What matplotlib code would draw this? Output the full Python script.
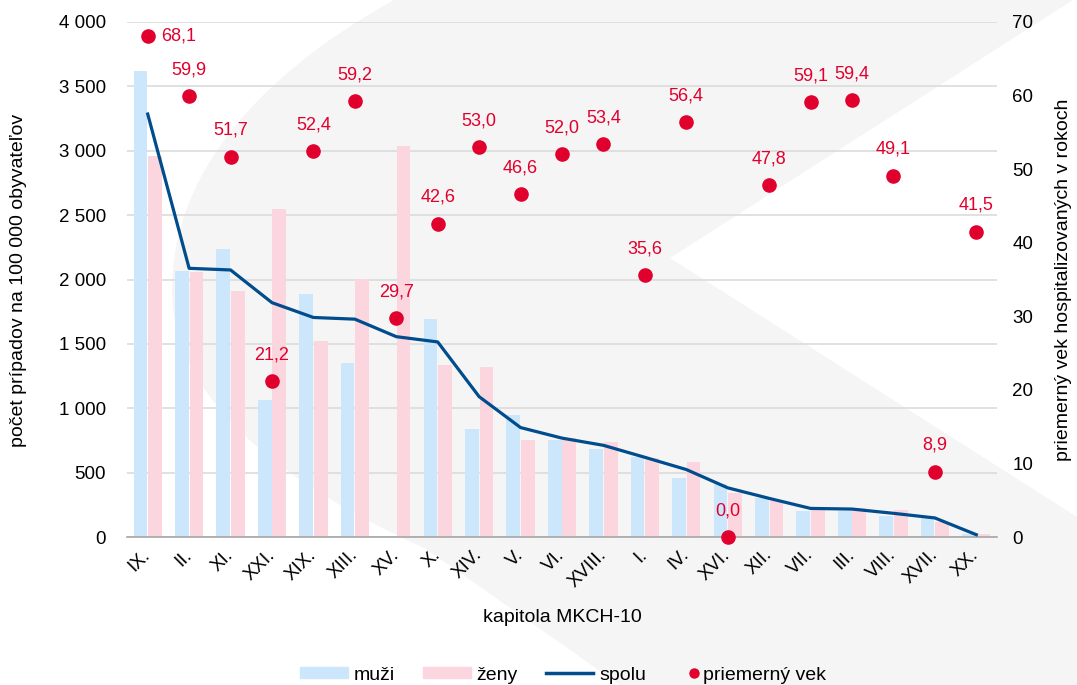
import numpy as np
import matplotlib
matplotlib.use("Agg")
import matplotlib.pyplot as plt
from matplotlib.patches import PathPatch, Patch
from matplotlib.path import Path
from matplotlib.lines import Line2D
from matplotlib.ticker import FuncFormatter, MultipleLocator

plt.rcParams['font.family'] = ['Liberation Sans', 'DejaVu Sans']

# data
kapitoly = ["IX.", "II.", "XI.", "XXI.", "XIX.", "XIII.", "XV.", "X.", "XIV.", "V.", "VI.",
            "XVIII.", "I.", "IV.", "XVI.", "XII.", "VII.", "III.", "VIII.", "XVII.", "XX."]
muzi = [3620, 2065, 2235, 1064, 1887, 1355, 0, 1693, 841, 948, 750,
        681, 624, 461, 415, 304, 204, 203, 163, 165, 23]
zeny = [2962, 2062, 1913, 2546, 1522, 2001, 3039, 1336, 1320, 750, 767,
        737, 616, 584, 344, 284, 207, 228, 210, 120, 21]
spolu = [3285, 2087, 2074, 1820, 1705, 1692, 1556, 1515, 1090, 850, 768,
         712, 619, 524, 382, 300, 222, 217, 184, 148, 18]
vek = [68.1, 59.9, 51.7, 21.2, 52.4, 59.2, 29.7, 42.6, 53.0, 46.6, 52.0,
       53.4, 35.6, 56.4, 0.0, 47.8, 59.1, 59.4, 49.1, 8.9, 41.5]

C_MUZI = "#cce6fb"
C_ZENY = "#fcd6de"
C_SPOLU = "#004c8c"
C_VEK = "#e1002d"

W, H = 1077, 685
fig = plt.figure(figsize=(W / 100, H / 100), dpi=100)

# grey watermark shape in the background (pixel outline, top-left origin)
shape_px = [(394, 0), (250, 80), (172, 180), (172, 290),
            (172, 420), (330, 505), (426, 549),
            (620, 685), (1077, 685), (1077, 517), (670, 258), (1073, 0), (394, 0)]
codes = [Path.MOVETO, Path.CURVE4, Path.CURVE4, Path.CURVE4,
         Path.CURVE4, Path.CURVE4, Path.CURVE4,
         Path.LINETO, Path.LINETO, Path.LINETO, Path.LINETO, Path.LINETO, Path.CLOSEPOLY]
shape = [(px / W, 1 - py / H) for px, py in shape_px]
fig.add_artist(PathPatch(Path(shape, codes), transform=fig.transFigure,
                         facecolor="#f5f5f5", edgecolor="none", zorder=-5))

ax = fig.add_axes([127 / W, 1 - 537 / H, 870 / W, 515 / H])
ax.patch.set_visible(False)
ax2 = ax.twinx()
ax2.patch.set_visible(False)

x = np.arange(len(kapitoly))
bw = 0.33
ax.bar(x - 0.175, muzi, bw, color=C_MUZI, zorder=2)
ax.bar(x + 0.175, zeny, bw, color=C_ZENY, zorder=2)
ax.plot(x, spolu, color=C_SPOLU, lw=2.3, zorder=3)

ax.set_xlim(-0.5, len(kapitoly) - 0.5)
ax.set_ylim(0, 4000)
ax.yaxis.set_major_locator(MultipleLocator(500))
ax.yaxis.set_major_formatter(FuncFormatter(lambda v, _: f"{int(v):,}".replace(",", " ")))
ax.grid(axis="y", color="#d9d9d9", lw=1.1, zorder=0)
ax.set_axisbelow(True)

ax.set_xticks(x)
ax.set_xticklabels(kapitoly, rotation=45, ha="right", va="center", rotation_mode="anchor")
ax.tick_params(axis="x", length=0, pad=11, labelsize=13.5)
ax.tick_params(axis="y", length=0, pad=15, labelsize=13.5)

for a in (ax, ax2):
    for s in ("top", "left", "right", "bottom"):
        a.spines[s].set_visible(False)
ax.spines["bottom"].set_visible(True)
ax.spines["bottom"].set_color("#a6a6a6")
ax.spines["bottom"].set_linewidth(1.2)

ax2.set_ylim(0, 70)
ax2.yaxis.set_major_locator(MultipleLocator(10))
ax2.tick_params(axis="y", length=0, pad=11, labelsize=13.5)
ax2.scatter(x, vek, s=90, color=C_VEK, zorder=5, clip_on=False)

for i, v in enumerate(vek):
    txt = f"{v:.1f}".replace(".", ",")
    if i == 0:
        ax2.annotate(txt, (x[i], v), xytext=(10, 0), textcoords="offset points",
                     ha="left", va="center", color=C_VEK, fontsize=13)
    else:
        ax2.annotate(txt, (x[i], v), xytext=(0, 19), textcoords="offset points",
                     ha="center", va="center", color=C_VEK, fontsize=13)

fig.text(19 / W, 1 - 280 / H, "počet prípadov na 100 000 obyvateľov", rotation=90,
         ha="center", va="center", fontsize=14)
fig.text(1064 / W, 1 - 280 / H, "priemerný vek hospitalizovaných v rokoch", rotation=90,
         ha="center", va="center", fontsize=14)
fig.text(562 / W, 1 - 618 / H, "kapitola MKCH-10", ha="center", va="center", fontsize=14)

# legend: two pieces so the dot sits right next to its text
leg_y = 1 - 675 / H
handles = [Patch(color=C_MUZI), Patch(color=C_ZENY), Line2D([], [], color=C_SPOLU, lw=2.5)]
fig.legend(handles, ["muži", "ženy", "spolu"], loc="center left",
           bbox_to_anchor=(300 / W, leg_y), ncol=3, frameon=False, fontsize=14,
           handlelength=2.45, handleheight=0.55, handletextpad=0.3,
           columnspacing=1.45, borderpad=0, borderaxespad=0)
dot = Line2D([], [], marker="o", ls="none", color=C_VEK, markersize=6.5)
fig.legend([dot], ["priemerný vek"], loc="center left", bbox_to_anchor=(688 / W, leg_y),
           frameon=False, fontsize=14, handlelength=0.6, handletextpad=0.15,
           borderpad=0, borderaxespad=0)

fig.savefig("out.png", dpi=100)
